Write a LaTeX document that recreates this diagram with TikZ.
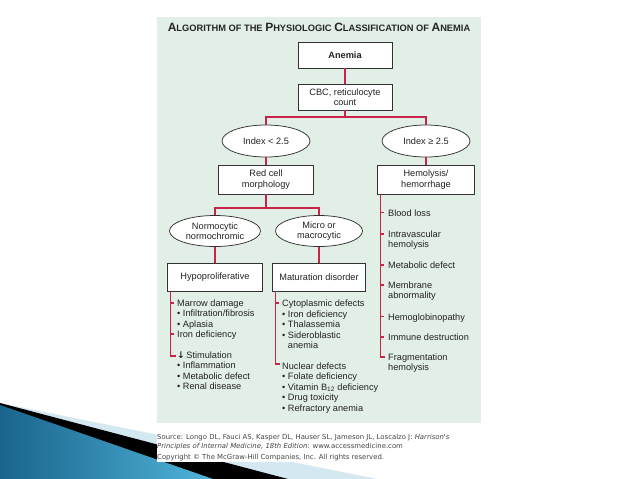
\documentclass[tikz,border=0pt]{standalone}
\usepackage{fontspec}
\setmainfont{Liberation Sans}
\newfontfamily\srcfont{DejaVu Sans}
\usetikzlibrary{shapes.geometric}
\definecolor{panel}{RGB}{226,239,230}
\definecolor{redline}{RGB}{200,35,72}
\definecolor{boxline}{RGB}{50,50,50}
\definecolor{txt}{RGB}{35,35,35}
\definecolor{lightblue}{RGB}{212,232,241}
\definecolor{bluedark}{RGB}{25,100,140}
\definecolor{bluelight}{RGB}{80,180,218}
\newcommand\ttlcap[1]{{\fontsize{12}{13}\selectfont #1}}
\begin{document}
\begin{tikzpicture}[x=1pt,y=-1pt,
  box/.style={draw=boxline, line width=0.75pt, fill=white, inner sep=1pt, align=center,
    text=txt, font=\fontsize{9.2}{10.3}\selectfont},
  oval/.style={ellipse, draw=boxline, line width=0.75pt, fill=white, inner sep=1pt, align=center,
    text=txt, font=\fontsize{9.2}{10.3}\selectfont},
  link/.style={draw=redline, line width=1.2pt},
  item/.style={anchor=base west, inner sep=0pt, text=txt, font=\fontsize{9.2}{10.3}\selectfont},
  src/.style={anchor=base west, inner sep=0pt, text=txt!85, font=\srcfont\fontsize{6.9}{8}\selectfont}]
\useasboundingbox (0,0) rectangle (638,479);
\fill[white] (0,0) rectangle (638,479);
% decoration
\fill[lightblue] (0,403) -- (377,479) -- (0,479) -- cycle;
\fill[black] (0,403) -- (288,479) -- (0,479) -- cycle;
\shade[left color=bluedark, right color=bluelight] (0,405) -- (213,479) -- (0,479) -- cycle;
\fill[white] (157,424) rectangle (481,462);
% panel
\fill[panel] (157,17) rectangle (481,423);
\node[anchor=center, inner sep=0pt, text=black!85] (title) at (319,27)
  {\fontsize{9.3}{10}\selectfont\bfseries \ttlcap{A}LGORITHM OF THE \ttlcap{P}HYSIOLOGIC \ttlcap{C}LASSIFICATION OF \ttlcap{A}NEMIA};
% nodes
\node[box, minimum width=94, minimum height=26, font=\fontsize{9.2}{10.3}\selectfont\bfseries] (anemia) at (345,55) {Anemia};
\node[box, minimum width=94, minimum height=26] (cbc) at (345,97) {CBC, reticulocyte\\count};
\node[oval, minimum width=88, minimum height=32] (lo) at (266,141) {Index < 2.5};
\node[oval, minimum width=88, minimum height=32] (hi) at (426,141) {Index ≥ 2.5};
\node[box, minimum width=95, minimum height=29] (red) at (266,179.5) {Red cell\\morphology};
\node[box, minimum width=97, minimum height=29] (hemo) at (426,179.5) {Hemolysis/\\hemorrhage};
\node[oval, minimum width=91, minimum height=31] (normo) at (215,231) {Normocytic\\normochromic};
\node[oval, minimum width=87, minimum height=31] (micro) at (319,231) {Micro or\\macrocytic};
\node[box, minimum width=95, minimum height=28] (hypo) at (215,277) {Hypoproliferative};
\node[box, minimum width=93, minimum height=28] (mat) at (319,277) {Maturation disorder};
% connectors
\coordinate (j1) at (345,117);
\coordinate (j2) at (266,208);
\draw[link] (anemia) -- (cbc);
\draw[link] (cbc.south) -- (j1);
\draw[link] (lo.north) |- (j1) -| (hi.north);
\draw[link] (lo) -- (red);
\draw[link] (hi) -- (hemo);
\draw[link] (red.south) -- (j2);
\draw[link] (normo.north) |- (j2) -| (micro.north);
\draw[link] (normo) -- (hypo);
\draw[link] (micro) -- (mat);
% left list
\coordinate (lt) at (170.5,291);
\coordinate (lb) at (170.5,356);
\coordinate (hl) at (176,356);
\draw[link] (lt) -- (lb) -- (hl);
\draw[link] (170.5,303) -- ++(3.5,0);
\draw[link] (170.5,334) -- ++(3.5,0);
\node[item] (a1) at (177,306.3) {Marrow damage};
\node[item] (a2) at (177,316.7) {• Infiltration/fibrosis};
\node[item] (a3) at (177,327.1) {• Aplasia};
\node[item] (a4) at (177,337.4) {Iron deficiency};
\node[item] (a5) at (177,358.3) {{\srcfont\bfseries ↓}\,Stimulation};
\node[item] (a6) at (177,368.8) {• Inflammation};
\node[item] (a7) at (177,379.2) {• Metabolic defect};
\node[item] (a8) at (177,389.6) {• Renal disease};
% middle list
\coordinate (mt) at (275.5,291);
\coordinate (mb) at (275.5,364);
\coordinate (hm) at (280,364);
\draw[link] (mt) -- (mb) -- (hm);
\draw[link] (275.5,303) -- ++(3.5,0);
\node[item] (b1) at (282,306.5) {Cytoplasmic defects};
\node[item] (b2) at (282,317) {• Iron deficiency};
\node[item] (b3) at (282,327.5) {• Thalassemia};
\node[item] (b4) at (282,338) {• Sideroblastic};
\node[item] (b5) at (282,348.3) {\phantom{• }anemia};
\node[item] (b6) at (282,369.2) {Nuclear defects};
\node[item] (b7) at (282,379.7) {• Folate deficiency};
\node[item] (b8) at (282,390.1) {• Vitamin B\textsubscript{12} deficiency};
\node[item] (b9) at (282,400.6) {• Drug toxicity};
\node[item] (b10) at (282,411) {• Refractory anemia};
% right list
\coordinate (rt) at (380.5,194);
\coordinate (rb) at (380.5,357);
\coordinate (hr) at (385,357);
\draw[link] (rt) -- (rb) -- (hr);
\foreach \ty in {212.7,234,265,285,316.7,337}
  \draw[link] (380.5,\ty) -- ++(3.5,0);
\node[item] (c1) at (388,216) {Blood loss};
\node[item] (c2) at (388,237.3) {Intravascular};
\node[item] (c3) at (388,247.6) {hemolysis};
\node[item] (c4) at (388,268.3) {Metabolic defect};
\node[item] (c5) at (388,288.3) {Membrane};
\node[item] (c6) at (388,298.6) {abnormality};
\node[item] (c7) at (388,320) {Hemoglobinopathy};
\node[item] (c8) at (388,340.3) {Immune destruction};
\node[item] (c9) at (388,360.3) {Fragmentation};
\node[item] (c10) at (388,370.6) {hemolysis};
% source
\node[src] (s1) at (157,439.3) {Source: Longo DL, Fauci AS, Kasper DL, Hauser SL, Jameson JL, Loscalzo J: \textit{Harrison's}};
\node[src] (s2) at (157,448.3) {\textit{Principles of Internal Medicine, 18th Edition}: www.accessmedicine.com};
\node[src] (s3) at (157,459.5) {Copyright © The McGraw-Hill Companies, Inc. All rights reserved.};
\end{tikzpicture}
\end{document}
